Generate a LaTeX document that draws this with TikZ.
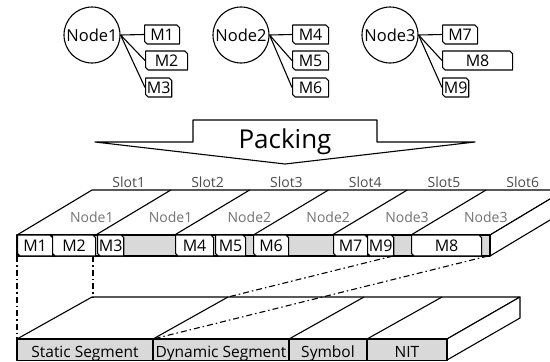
\documentclass[tikz,border=0pt]{standalone}
\usepackage{fontspec}
\setmainfont{Open Sans}
\usetikzlibrary{shapes.misc}
\begin{document}
\begin{tikzpicture}[x=1bp, y=-1bp, line width=1.1bp, line join=round,
  ecu/.style={draw, circle, minimum size=56bp, inner sep=0pt, font=\fontsize{16.5bp}{18bp}\selectfont},
  msg/.style={draw, fill=white, chamfered rectangle, chamfered rectangle corners={north east,south west},
    chamfered rectangle sep=1.3bp, inner sep=0pt, minimum height=19bp, anchor=west,
    font=\fontsize{16bp}{18bp}\selectfont},
  slotlbl/.style={anchor=base, text=black!70, font=\fontsize{14bp}{16bp}\selectfont},
  ownlbl/.style={anchor=base, text=black!55, font=\fontsize{14bp}{16bp}\selectfont},
  seglbl/.style={anchor=base, font=\fontsize{15.5bp}{17bp}\selectfont},
  link/.style={line width=1.1bp, dash pattern=on 6bp off 3bp on 1.5bp off 3bp}]
\useasboundingbox (0,0) rectangle (550,361);
% nodes and their messages
\node[ecu] (n1) at (92,35) {Node1};
\node[ecu] (n2) at (241,35) {Node2};
\node[ecu] (n3) at (390,35) {Node3};
\foreach \t/\x/\y/\w in {M1/144/34.5/35, M2/145/60.5/42, M3/145/87.5/25,
  M4/292/34.5/36, M5/292/60.5/36, M6/292/87.5/36,
  M7/442/34.5/35, M8/442/60.5/70, M9/442/87.5/26}
  \node[msg, minimum width=\w bp] (\t) at (\x,\y) {\t};
\foreach \n/\m in {n1/M1,n1/M2,n1/M3,n2/M4,n2/M5,n2/M6,n3/M7,n3/M8,n3/M9}
  \draw (\n.east) -- (\m.west);
% packing arrow
\draw[fill=white] (95,142) -- (193,142) -- (193,120) -- (377,120) -- (377,142)
  -- (475,142) -- (285,164) -- cycle;
\node[anchor=base, font=\fontsize{26bp}{30bp}\selectfont] (pack) at (285,148) {Packing};
% slots
\draw[fill=white] (17,235) -- (92,190) -- (565,190) -- (490,235) -- cycle;
\draw[fill=white] (490,235) -- (565,190) -- (565,211) -- (490,256) -- cycle;
\draw[fill=black!15] (17,235) rectangle (490,256);
\foreach \i in {1,...,5}
  \draw (17+\i*78.8,235) -- ++(75,-45);
\foreach \i in {1,...,6}
  \node[slotlbl] (slot\i) at (50+\i*78.8,187.5) {Slot\i};
\foreach \i/\o in {1/1,2/1,3/2,4/2,5/3,6/3}
  \node[ownlbl] (own\i) at (13+\i*78.8,222) {Node\o};
\foreach \t/\x/\w in {M1/17/35, M2/52/43, M3/97/25, M4/175/38, M5/215/30,
  M6/253/35, M7/333/34, M9/367/26, M8/411/70}
  \node[msg, minimum height=21bp, minimum width=\w bp] (f\t) at (\x,245.5) {\t};
% cycle segments
\draw[fill=white] (17,339) -- (92,297) -- (520,297) -- (447,339) -- cycle;
\draw[fill=white] (447,339) -- (520,297) -- (520,318) -- (447,360) -- cycle;
\draw[fill=black!15] (17,339) rectangle (447,360.5);
\foreach \x in {153,289,367} {
  \draw (\x,339) -- (\x,360.5);
  \draw (\x,339) -- ++(75,-42);
}
\node[seglbl] (stat) at (85,357) {Static Segment};
\node[seglbl] (dyn) at (221,357) {Dynamic Segment};
\node[seglbl] (sym) at (328,357) {Symbol};
\node[seglbl] (nit) at (407,357) {NIT};
% mapping lines
\coordinate (a1) at (17,256);
\coordinate (a2) at (93,256);
\coordinate (a3) at (393,256);
\coordinate (a4) at (488,256);
\coordinate (b1) at (17,339);
\coordinate (b2) at (93,297);
\coordinate (b3) at (228,297);
\coordinate (b4) at (153,339);
\draw[link] (a1) -- (b1);
\draw[link] (a2) -- (b2);
\draw[link] (a3) -- (b3);
\draw[link] (a4) -- (b4);
\end{tikzpicture}
\end{document}
